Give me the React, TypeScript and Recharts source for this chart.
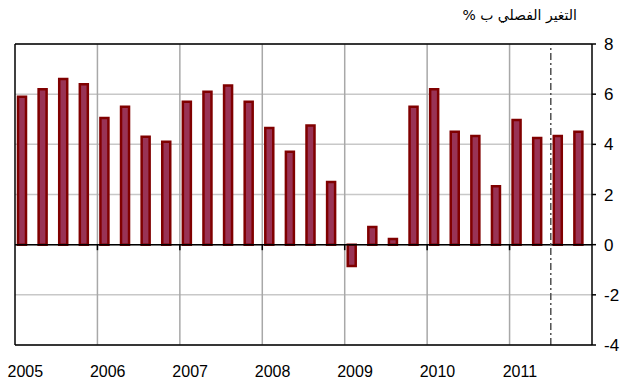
import { BarChart, Bar, XAxis, YAxis, CartesianGrid, ReferenceLine } from 'recharts'

const years = ['2005', '2006', '2007', '2008', '2009', '2010', '2011']
const quarters = ['Q1', 'Q2', 'Q3', 'Q4']
// quarterly change in %
const values = [
  5.9, 6.2, 6.6, 6.4,
  5.05, 5.5, 4.3, 4.1,
  5.7, 6.1, 6.35, 5.7,
  4.65, 3.7, 4.75, 2.5,
  -0.85, 0.7, 0.23, 5.5,
  6.2, 4.5, 4.33, 2.33,
  4.97, 4.25, 4.33, 4.5,
]
const yTicks = [-4, -2, 0, 2, 4, 6, 8]
const title = 'التغير الفصلي ب %'

const labels = values.map((_, i) => `${years[Math.floor(i / 4)]} ${quarters[i % 4]}`)
const data = values.map((v, i) => ({ label: labels[i], value: v }))

// first quarter of each year: year labels + year gridlines
const yearFirst = years.map((y) => `${y} Q1`)
const forecastStart = '2011 Q3'

const font = '"Liberation Sans", Arial, sans-serif'

export default function App() {
  return (
    <div style={{ position: 'absolute', left: 0, top: 0, width: 623, height: 385, background: '#fff' }}>
      <div
        dir="rtl"
        style={{
          position: 'absolute',
          right: 46,
          top: 7,
          fontFamily: '"DejaVu Sans", sans-serif',
          fontSize: 14,
          color: '#000',
          whiteSpace: 'nowrap',
        }}
      >
        {title}
      </div>
      <BarChart
        width={623}
        height={385}
        data={data}
        margin={{ top: 44, right: 0, left: 15, bottom: 0 }}
        barSize={8}
      >
        <CartesianGrid xAxisId="cat" vertical={false} stroke="#c8c8c8" strokeWidth={1.5} />
        <XAxis xAxisId="bars" dataKey="label" hide height={0} padding={{ left: -3, right: 3 }} />
        <XAxis
          xAxisId="cat"
          dataKey="label"
          ticks={yearFirst}
          interval={0}
          tickFormatter={(v) => String(v).slice(0, 4)}
          axisLine={false}
          tickLine={false}
          tickSize={0}
          tickMargin={21}
          height={40}
          tick={{ fontSize: 16, fill: '#000', fontFamily: font }}
        />
        <YAxis
          orientation="right"
          domain={[-4, 8]}
          ticks={yTicks}
          width={31}
          axisLine={{ stroke: '#000', strokeWidth: 1.5 }}
          tickLine={{ stroke: '#000', strokeWidth: 1.5 }}
          tickSize={4}
          tickMargin={8}
          interval={0}
          tick={{ fontSize: 17, fill: '#000', fontFamily: font }}
        />
        {yearFirst.slice(1).map((x) => (
          <ReferenceLine key={`g${x}`} xAxisId="cat" x={x} position="start" stroke="#a8a8a8" strokeWidth={1.5} />
        ))}
        <Bar
          xAxisId="bars"
          dataKey="value"
          fill="#993355"
          stroke="#800000"
          strokeWidth={2.5}
          isAnimationActive={false}
        />
        <ReferenceLine xAxisId="cat" y={0} stroke="#000" strokeWidth={1.5} />
        {yearFirst.slice(1).map((x) => (
          <ReferenceLine
            key={`t${x}`}
            xAxisId="cat"
            position="start"
            segment={[{ x, y: 0 }, { x, y: -0.22 }]}
            stroke="#000"
            strokeWidth={1.5}
          />
        ))}
        <ReferenceLine
          xAxisId="cat"
          x={forecastStart}
          position="start"
          stroke="#505050"
          strokeWidth={1.5}
          strokeDasharray="7 3 2 3"
        />
        <ReferenceLine xAxisId="cat" y={8} stroke="#000" strokeWidth={1.5} />
        <ReferenceLine xAxisId="cat" y={-4} stroke="#000" strokeWidth={1.5} />
        <ReferenceLine xAxisId="cat" x={yearFirst[0]} position="start" stroke="#000" strokeWidth={1.5} />
      </BarChart>
    </div>
  )
}
